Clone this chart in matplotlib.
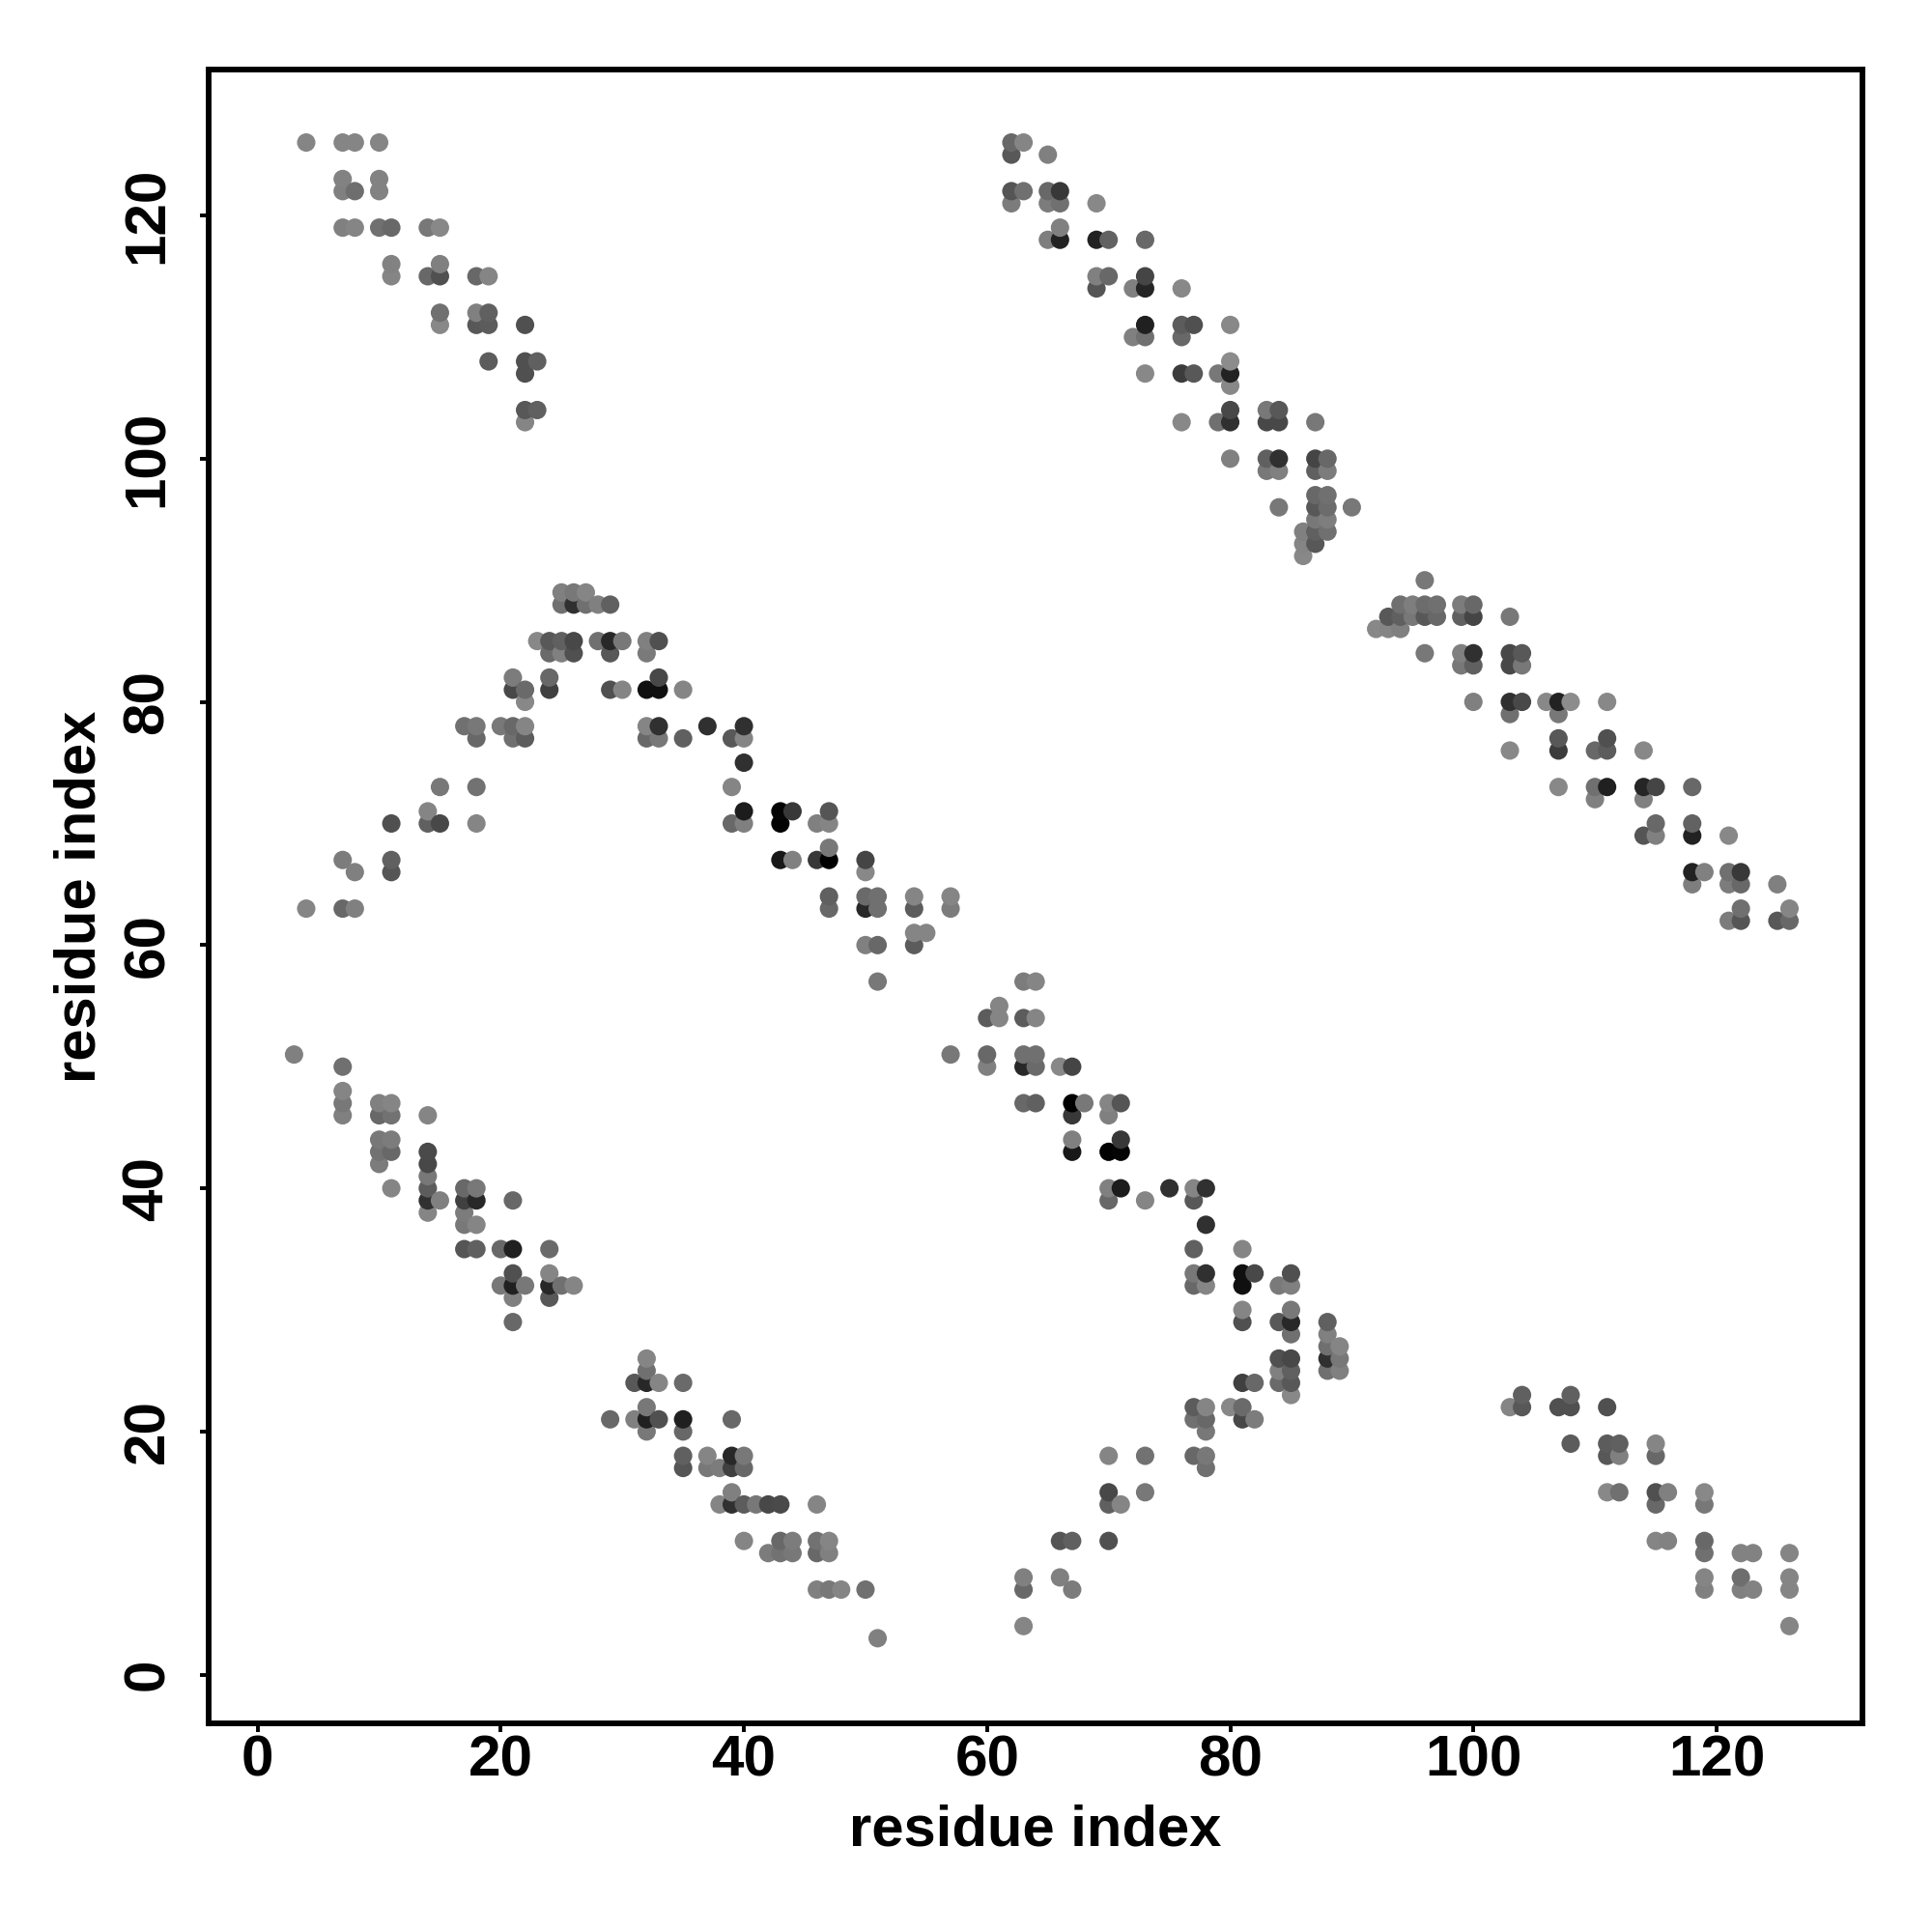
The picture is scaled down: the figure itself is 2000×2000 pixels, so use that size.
import matplotlib
matplotlib.use("Agg")
from matplotlib import pyplot as plt

plt.rcParams['font.family'] = ['Liberation Sans', 'DejaVu Sans']

# contacts as (residue i, residue j, grey level), only i<j, the map is symmetric
band_a = [
    (3,51,0x80), (7,50,0x70), (7,48,0x85), (7,47,0x78), (7,46,0x80),
    (10,47,0x80), (11,47,0x85), (10,46,0x68), (11,46,0x72), (14,46,0x85),
    (10,44,0x78), (11,44,0x7c), (10,43,0x72), (11,43,0x68), (14,43,0x4a),
    (10,42,0x7c), (14,42,0x48), (14,41,0x78), (11,40,0x85), (14,40,0x5c),
    (17,40,0x68), (18,40,0x78), (14,39,0x30), (15,39,0x80), (17,39,0x40),
    (18,39,0x28), (21,39,0x68), (14,38,0x85), (17,38,0x7c), (17,37,0x78),
    (18,37,0x85), (17,35,0x55), (18,35,0x60), (20,35,0x68), (21,35,0x20),
    (24,35,0x6a), (21,33,0x50), (24,33,0x85), (20,32,0x78), (21,32,0x20),
    (22,32,0x78), (24,32,0x28), (25,32,0x70), (26,32,0x85), (21,31,0x80),
    (24,31,0x58), (21,29,0x68),
]

band_b = [
    (4,126,0x85), (7,126,0x85), (8,126,0x85), (10,126,0x85),
    (7,123,0x82), (10,123,0x82), (7,122,0x80), (8,122,0x6e), (10,122,0x82),
    (7,119,0x80), (8,119,0x85), (10,119,0x70), (11,119,0x68), (14,119,0x78), (15,119,0x88),
    (11,116,0x82), (15,116,0x80), (11,115,0x85), (14,115,0x68), (15,115,0x50),
    (18,115,0x68), (19,115,0x85), (15,112,0x70), (18,112,0x80), (19,112,0x60),
    (15,111,0x88), (18,111,0x58), (19,111,0x5c), (22,111,0x50),
    (19,108,0x5c), (22,108,0x50), (23,108,0x60), (22,107,0x50),
    (22,104,0x58), (23,104,0x60), (22,103,0x85),
]

band_c = [
    (4,63,0x85), (7,63,0x68), (8,63,0x80), (8,66,0x80), (11,66,0x55),
    (7,67,0x7c), (11,67,0x60), (11,70,0x50), (14,70,0x60), (15,70,0x48),
    (18,70,0x85), (14,71,0x85), (15,73,0x78), (18,73,0x72),
    (18,77,0x68), (21,77,0x70), (22,77,0x5c), (32,77,0x68), (33,77,0x78),
    (17,78,0x70), (18,78,0x78), (20,78,0x78), (21,78,0x68), (22,78,0x85),
    (32,78,0x85), (33,78,0x30), (22,80,0x88),
    (21,81,0x48), (22,81,0x6a), (24,81,0x40), (29,81,0x50), (30,81,0x85),
    (32,81,0x10), (33,81,0x10), (21,82,0x7c), (24,82,0x68), (33,82,0x48),
    (24,84,0x6a), (25,84,0x80), (26,84,0x50), (29,84,0x58), (32,84,0x7a),
    (23,85,0x88), (24,85,0x58), (25,85,0x60), (26,85,0x48), (28,85,0x70),
    (29,85,0x28), (30,85,0x78), (32,85,0x80), (33,85,0x50),
    (25,88,0x70), (26,88,0x30), (27,88,0x70), (28,88,0x80), (29,88,0x60),
    (25,89,0x80), (26,89,0x78), (27,89,0x85),
]

band_d = [
    (35,77,0x60), (37,78,0x30), (39,77,0x58), (40,78,0x30), (40,77,0x85),
    (35,81,0x85), (40,75,0x30), (39,73,0x85),
    (40,71,0x1c), (43,71,0x05), (44,71,0x38), (47,71,0x55),
    (39,70,0x68), (40,70,0x80), (43,70,0x02), (46,70,0x80), (47,70,0x85),
    (47,68,0x78), (43,67,0x18), (44,67,0x80), (46,67,0x38), (47,67,0x00),
    (50,67,0x45), (50,66,0x88), (47,64,0x60), (50,64,0x6a), (51,64,0x70),
    (54,64,0x85), (57,64,0x85), (47,63,0x68), (50,63,0x28), (51,63,0x70),
    (54,63,0x5c), (57,63,0x7c), (54,61,0x85), (55,61,0x85),
    (50,60,0x80), (51,60,0x68), (54,60,0x5c), (51,57,0x78),
]

band_e = [
    (62,126,0x68), (63,126,0x85), (62,125,0x58), (65,125,0x80),
    (62,122,0x55), (63,122,0x70), (65,122,0x68), (66,122,0x38),
    (62,121,0x7c), (65,121,0x7c), (66,121,0x70), (69,121,0x88), (66,119,0x80),
    (65,118,0x7e), (66,118,0x22), (69,118,0x22), (70,118,0x62), (73,118,0x68),
    (69,115,0x80), (70,115,0x68), (73,115,0x45),
    (69,114,0x55), (72,114,0x80), (73,114,0x25), (76,114,0x88),
    (73,111,0x20), (76,111,0x5c), (77,111,0x50), (80,111,0x88),
    (72,110,0x80), (73,110,0x70), (76,110,0x68), (80,108,0x8c),
    (73,107,0x88), (76,107,0x3c), (77,107,0x58), (79,107,0x78), (80,107,0x22),
    (80,106,0x88), (80,104,0x48), (83,104,0x78), (84,104,0x58),
    (76,103,0x88), (79,103,0x70), (80,103,0x30), (83,103,0x48), (84,103,0x48), (87,103,0x78),
    (80,100,0x80), (83,100,0x60), (84,100,0x30), (87,100,0x45), (88,100,0x68),
    (83,99,0x78), (84,99,0x80), (87,99,0x60), (88,99,0x7c),
    (87,97,0x68), (88,97,0x70), (84,96,0x78), (87,96,0x58), (88,96,0x6c), (90,96,0x78),
    (87,95,0x78), (88,95,0x7e), (86,94,0x80), (87,94,0x60), (88,94,0x70),
    (86,93,0x85), (87,93,0x58), (86,92,0x88),
]

tick_values = [0, 20, 40, 60, 80, 100, 120]
axis_label = 'residue index'

contacts = band_a + band_b + band_c + band_d + band_e

# R draws the points in index order, later ones sit on top
points = []
for i, j, g in contacts:
    points.append((i, j, g))
    points.append((j, i, g))
points = sorted(set(points), key=lambda p: (p[0], p[1]))

xs = [p[0] for p in points]
ys = [p[1] for p in points]
colors = [(p[2]/255, p[2]/255, p[2]/255) for p in points]

fig = plt.figure(figsize=(10, 10), dpi=200)
ax = fig.add_axes([216.3/2000, 1-1784/2000, 1711.7/2000, 1712/2000])

ax.scatter(xs, ys, s=47, c=colors, linewidths=0, zorder=3)

ax.set_xlim(-4, 132)
ax.set_ylim(-4, 132)

ax.set_xticks(tick_values)
ax.set_yticks(tick_values)
ax.tick_params(axis='x', length=3.2, width=1.4, pad=1, labelsize=21.7)
ax.tick_params(axis='y', length=3.4, width=1.4, pad=9.3, labelsize=21.7)
for lab in ax.get_xticklabels():
    lab.set_fontweight('bold')
for lab in ax.get_yticklabels():
    lab.set_fontweight('bold')
    lab.set_rotation(90)
    lab.set_verticalalignment('center')

for sp in ax.spines.values():
    sp.set_linewidth(2.1)

ax.set_xlabel(axis_label, fontsize=21.5, fontweight='bold', labelpad=6)
ax.set_ylabel(axis_label, fontsize=21.5, fontweight='bold', labelpad=5.6)

plt.savefig('out.png', dpi=200)
